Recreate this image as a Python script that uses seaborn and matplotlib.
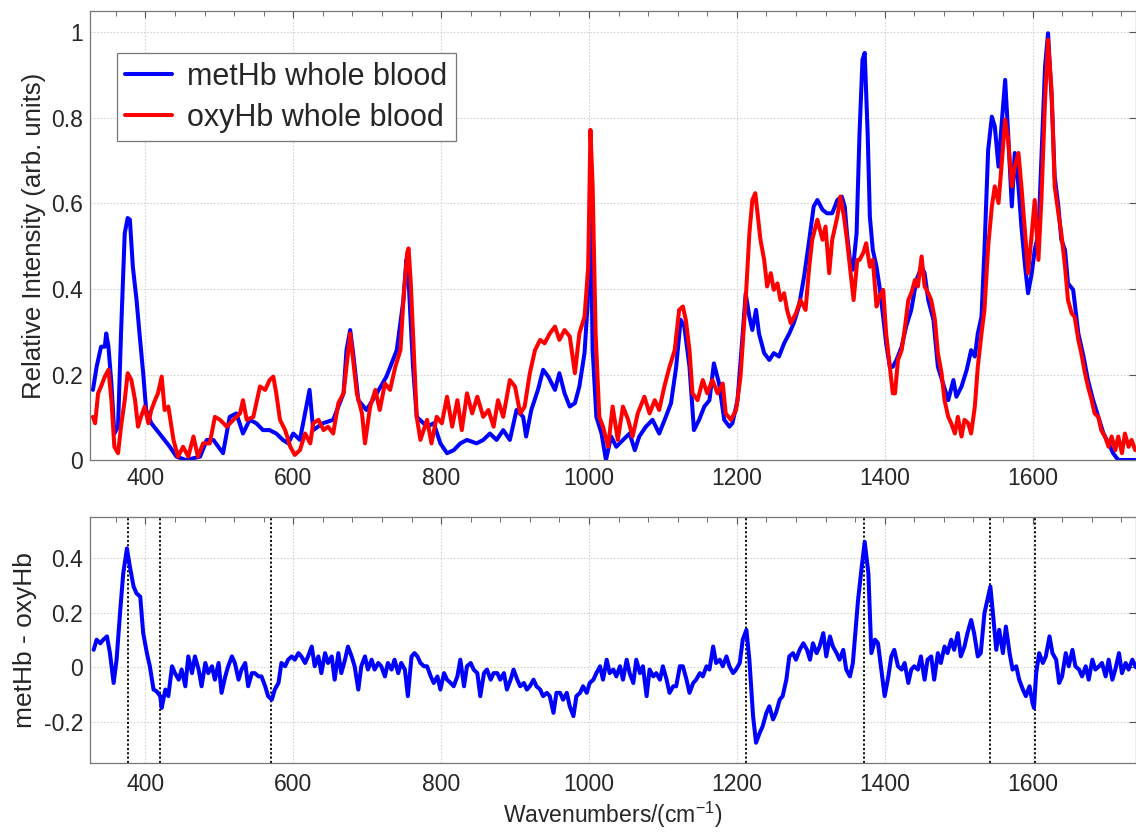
import matplotlib
matplotlib.use("Agg")
import matplotlib.pyplot as plt
import seaborn as sns
from matplotlib.ticker import MultipleLocator

# metHb whole blood spectrum
met_x = [329, 334, 340, 345, 347, 350, 354, 358, 363, 367, 372, 376, 379, 383, 388, 392, 397, 401, 408, 419,
         433, 442, 455, 474, 483, 492, 505, 514, 523, 532, 541, 550, 559, 568, 577, 586, 593, 600, 609, 622,
         627, 640, 654, 668, 672, 677, 681, 688, 699, 713, 726, 740, 749, 753, 756, 762, 767, 781, 790, 799,
         808, 817, 826, 835, 848, 857, 866, 875, 884, 893, 902, 911, 915, 922, 931, 938, 945, 954, 960, 967,
         974, 981, 987, 994, 998, 1002, 1005, 1010, 1017, 1023, 1030, 1037, 1046, 1055, 1062, 1068, 1077, 1086, 1095, 1104,
         1111, 1118, 1124, 1129, 1136, 1142, 1149, 1156, 1163, 1169, 1176, 1183, 1190, 1194, 1201, 1208, 1212, 1217, 1221, 1226,
         1230, 1237, 1244, 1250, 1257, 1264, 1271, 1277, 1284, 1291, 1298, 1304, 1309, 1316, 1322, 1329, 1336, 1342, 1346, 1349,
         1353, 1357, 1362, 1366, 1370, 1373, 1377, 1380, 1384, 1389, 1393, 1398, 1402, 1407, 1411, 1416, 1423, 1429, 1436, 1443,
         1450, 1454, 1459, 1466, 1472, 1479, 1486, 1493, 1497, 1504, 1511, 1517, 1522, 1526, 1531, 1535, 1540, 1545, 1549, 1554,
         1558, 1563, 1567, 1572, 1576, 1581, 1585, 1590, 1594, 1599, 1603, 1608, 1612, 1617, 1621, 1626, 1630, 1635, 1639, 1644,
         1648, 1655, 1662, 1669, 1675, 1682, 1689, 1696, 1703, 1709, 1716, 1723, 1732, 1740]
met_y = [0.164, 0.218, 0.265, 0.265, 0.296, 0.265, 0.179, 0.062, 0.078, 0.296, 0.530, 0.566, 0.562, 0.452, 0.374, 0.296, 0.203, 0.117, 0.086, 0.062,
         0.031, 0.008, 0.0, 0.008, 0.047, 0.047, 0.016, 0.101, 0.109, 0.062, 0.094, 0.086, 0.070, 0.070, 0.062, 0.047, 0.039, 0.062, 0.047, 0.164,
         0.070, 0.086, 0.094, 0.156, 0.257, 0.304, 0.250, 0.140, 0.117, 0.156, 0.195, 0.257, 0.374, 0.468, 0.420, 0.218, 0.101, 0.078, 0.086, 0.039,
         0.016, 0.023, 0.039, 0.047, 0.039, 0.047, 0.062, 0.047, 0.070, 0.047, 0.117, 0.101, 0.055, 0.117, 0.164, 0.211, 0.195, 0.164, 0.203, 0.156,
         0.125, 0.133, 0.172, 0.250, 0.359, 0.600, 0.257, 0.101, 0.062, 0.0, 0.055, 0.031, 0.047, 0.062, 0.023, 0.055, 0.078, 0.094, 0.062, 0.101,
         0.133, 0.218, 0.328, 0.312, 0.218, 0.070, 0.094, 0.125, 0.140, 0.226, 0.179, 0.094, 0.078, 0.086, 0.140, 0.296, 0.390, 0.335, 0.304, 0.351,
         0.296, 0.250, 0.234, 0.250, 0.242, 0.273, 0.296, 0.320, 0.359, 0.429, 0.515, 0.593, 0.608, 0.585, 0.577, 0.577, 0.608, 0.616, 0.593, 0.530,
         0.468, 0.445, 0.530, 0.764, 0.936, 0.952, 0.764, 0.569, 0.491, 0.452, 0.406, 0.335, 0.273, 0.218, 0.218, 0.234, 0.265, 0.312, 0.351, 0.421,
         0.452, 0.437, 0.374, 0.328, 0.218, 0.179, 0.140, 0.187, 0.148, 0.172, 0.211, 0.257, 0.242, 0.296, 0.335, 0.491, 0.725, 0.803, 0.780, 0.686,
         0.780, 0.889, 0.764, 0.593, 0.718, 0.640, 0.546, 0.452, 0.390, 0.437, 0.491, 0.530, 0.702, 0.920, 0.998, 0.842, 0.663, 0.593, 0.515, 0.491,
         0.413, 0.398, 0.296, 0.242, 0.187, 0.140, 0.101, 0.062, 0.039, 0.016, 0.0, 0.0, 0.0, 0.0]

# oxyHb whole blood spectrum
oxy_x = [329, 332, 336, 340, 345, 350, 354, 358, 363, 367, 372, 376, 381, 386, 390, 394, 399, 404, 408, 413,
         417, 422, 426, 431, 438, 444, 451, 458, 465, 471, 478, 487, 494, 501, 510, 519, 528, 532, 537, 546,
         555, 562, 568, 573, 577, 582, 589, 596, 602, 609, 616, 623, 627, 634, 641, 647, 654, 661, 668, 672,
         677, 681, 686, 693, 697, 704, 711, 717, 724, 731, 738, 745, 749, 754, 756, 759, 763, 767, 772, 781,
         787, 794, 801, 808, 815, 822, 828, 835, 842, 849, 857, 864, 871, 877, 884, 893, 900, 907, 913, 920,
         927, 934, 940, 947, 954, 960, 967, 974, 981, 987, 994, 999, 1002, 1005, 1009, 1014, 1019, 1026, 1032, 1039,
         1046, 1053, 1059, 1066, 1075, 1082, 1089, 1095, 1102, 1109, 1116, 1122, 1127, 1131, 1136, 1140, 1147, 1154, 1160, 1167,
         1174, 1181, 1185, 1192, 1199, 1205, 1212, 1217, 1221, 1225, 1228, 1232, 1237, 1241, 1246, 1250, 1255, 1259, 1264, 1268,
         1273, 1280, 1286, 1293, 1298, 1302, 1309, 1316, 1320, 1325, 1329, 1336, 1340, 1345, 1349, 1354, 1358, 1363, 1366, 1371,
         1375, 1380, 1384, 1389, 1393, 1398, 1402, 1407, 1411, 1414, 1418, 1423, 1427, 1432, 1436, 1441, 1445, 1450, 1454, 1459,
         1463, 1468, 1472, 1477, 1481, 1486, 1490, 1495, 1499, 1504, 1508, 1513, 1517, 1522, 1526, 1531, 1535, 1540, 1545, 1549,
         1554, 1558, 1563, 1567, 1572, 1576, 1581, 1585, 1590, 1594, 1599, 1603, 1608, 1612, 1617, 1621, 1626, 1630, 1635, 1639,
         1644, 1648, 1653, 1657, 1662, 1666, 1671, 1675, 1680, 1684, 1689, 1693, 1698, 1703, 1707, 1712, 1716, 1721, 1725, 1730,
         1734, 1739]
oxy_y = [0.101, 0.086, 0.156, 0.172, 0.195, 0.211, 0.140, 0.031, 0.016, 0.078, 0.140, 0.203, 0.187, 0.140, 0.078, 0.101, 0.125, 0.086, 0.117, 0.140,
         0.156, 0.195, 0.117, 0.125, 0.047, 0.008, 0.031, 0.008, 0.055, 0.008, 0.039, 0.039, 0.101, 0.094, 0.078, 0.094, 0.109, 0.140, 0.094, 0.101,
         0.172, 0.164, 0.187, 0.195, 0.156, 0.094, 0.070, 0.031, 0.012, 0.023, 0.062, 0.039, 0.086, 0.094, 0.070, 0.078, 0.062, 0.133, 0.156, 0.218,
         0.296, 0.234, 0.156, 0.109, 0.039, 0.125, 0.164, 0.117, 0.179, 0.164, 0.218, 0.257, 0.374, 0.484, 0.495, 0.413, 0.257, 0.101, 0.047, 0.094,
         0.039, 0.101, 0.086, 0.148, 0.078, 0.140, 0.070, 0.156, 0.109, 0.148, 0.101, 0.117, 0.078, 0.140, 0.101, 0.187, 0.172, 0.109, 0.125, 0.203,
         0.257, 0.281, 0.273, 0.296, 0.312, 0.281, 0.304, 0.289, 0.203, 0.296, 0.335, 0.452, 0.772, 0.640, 0.296, 0.101, 0.078, 0.031, 0.125, 0.047,
         0.125, 0.094, 0.055, 0.109, 0.148, 0.109, 0.140, 0.117, 0.172, 0.218, 0.257, 0.351, 0.359, 0.328, 0.257, 0.156, 0.140, 0.187, 0.156, 0.187,
         0.156, 0.179, 0.109, 0.094, 0.117, 0.195, 0.374, 0.530, 0.608, 0.624, 0.577, 0.515, 0.468, 0.406, 0.437, 0.398, 0.413, 0.374, 0.390, 0.351,
         0.320, 0.343, 0.374, 0.351, 0.452, 0.515, 0.562, 0.515, 0.546, 0.437, 0.515, 0.569, 0.616, 0.569, 0.515, 0.437, 0.374, 0.468, 0.468, 0.484,
         0.507, 0.452, 0.468, 0.359, 0.382, 0.398, 0.296, 0.218, 0.156, 0.156, 0.234, 0.257, 0.304, 0.374, 0.390, 0.421, 0.406, 0.476, 0.406, 0.390,
         0.374, 0.328, 0.250, 0.203, 0.140, 0.101, 0.086, 0.062, 0.101, 0.055, 0.094, 0.086, 0.062, 0.125, 0.218, 0.296, 0.351, 0.499, 0.593, 0.640,
         0.601, 0.686, 0.796, 0.749, 0.640, 0.686, 0.718, 0.640, 0.530, 0.437, 0.530, 0.608, 0.468, 0.608, 0.842, 0.983, 0.858, 0.640, 0.577, 0.530,
         0.452, 0.374, 0.343, 0.335, 0.281, 0.250, 0.203, 0.172, 0.140, 0.109, 0.101, 0.070, 0.055, 0.031, 0.055, 0.023, 0.055, 0.016, 0.062, 0.031,
         0.047, 0.023]

# difference spectrum metHb - oxyHb
diff_x = [330, 334, 339, 343, 348, 352, 357, 361, 366, 370, 375, 379, 384, 388, 393, 397, 402, 406, 411, 415,
          420, 422, 427, 431, 436, 440, 445, 449, 454, 458, 463, 467, 472, 476, 481, 485, 490, 494, 499, 503,
          508, 512, 517, 521, 526, 530, 535, 539, 544, 548, 553, 557, 562, 566, 571, 575, 580, 584, 589, 593,
          598, 602, 607, 611, 616, 620, 625, 629, 634, 638, 643, 647, 652, 656, 661, 665, 670, 674, 679, 683,
          688, 692, 697, 701, 706, 710, 715, 719, 724, 728, 733, 737, 742, 746, 751, 755, 760, 764, 768, 772,
          777, 781, 786, 790, 795, 799, 804, 808, 813, 817, 822, 826, 831, 835, 840, 844, 849, 853, 858, 862,
          867, 871, 876, 880, 885, 889, 894, 898, 903, 907, 912, 916, 920, 925, 929, 934, 938, 943, 947, 952,
          956, 961, 965, 970, 974, 979, 983, 988, 992, 997, 1001, 1006, 1010, 1015, 1019, 1024, 1028, 1033, 1037, 1042,
          1046, 1051, 1055, 1060, 1064, 1069, 1073, 1078, 1082, 1087, 1091, 1096, 1100, 1105, 1109, 1114, 1118, 1123, 1127, 1132,
          1136, 1141, 1145, 1150, 1154, 1159, 1163, 1168, 1172, 1177, 1181, 1186, 1190, 1195, 1199, 1204, 1208, 1213, 1217, 1222,
          1226, 1231, 1235, 1240, 1244, 1249, 1253, 1258, 1262, 1267, 1271, 1276, 1280, 1285, 1290, 1295, 1299, 1303, 1308, 1312,
          1317, 1321, 1326, 1330, 1335, 1339, 1344, 1348, 1353, 1357, 1360, 1364, 1369, 1373, 1378, 1382, 1387, 1391, 1396, 1400,
          1405, 1409, 1413, 1418, 1423, 1427, 1432, 1436, 1440, 1445, 1449, 1454, 1458, 1463, 1467, 1472, 1476, 1481, 1485, 1490,
          1494, 1499, 1503, 1508, 1512, 1517, 1521, 1526, 1530, 1535, 1539, 1543, 1546, 1551, 1555, 1560, 1564, 1569, 1573, 1578,
          1582, 1587, 1591, 1596, 1600, 1602, 1605, 1609, 1614, 1618, 1623, 1627, 1632, 1636, 1640, 1645, 1649, 1654, 1658, 1663,
          1667, 1672, 1676, 1681, 1685, 1690, 1694, 1699, 1703, 1708, 1712, 1717, 1721, 1726, 1730, 1735, 1740]
diff_y = [0.064, 0.101, 0.088, 0.101, 0.113, 0.052, -0.057, 0.028, 0.210, 0.343, 0.434, 0.367, 0.295, 0.270, 0.258, 0.125, 0.052, 0.004, -0.081, -0.087,
          -0.105, -0.148, -0.081, -0.105, 0.004, -0.021, -0.045, -0.008, -0.069, 0.040, -0.021, 0.040, -0.008, -0.069, 0.016, -0.021, 0.004, -0.045, 0.016, -0.093,
          -0.033, 0.004, 0.040, 0.016, -0.045, -0.008, 0.016, -0.069, -0.021, -0.021, -0.033, -0.033, -0.069, -0.105, -0.118, -0.081, -0.057, 0.016, 0.004, 0.028,
          0.040, 0.028, 0.052, 0.040, 0.016, 0.040, 0.076, 0.004, 0.040, -0.021, 0.052, 0.016, 0.040, -0.045, 0.052, -0.021, 0.028, 0.076, 0.040, 0.004,
          -0.081, 0.004, 0.040, -0.008, 0.028, -0.008, 0.016, 0.004, -0.033, 0.016, -0.008, 0.028, -0.021, 0.016, -0.008, -0.105, 0.040, 0.052, 0.040, 0.016,
          0.004, 0.004, -0.033, -0.057, -0.033, -0.081, -0.021, -0.045, -0.057, -0.069, -0.033, 0.028, -0.069, 0.004, 0.016, -0.008, -0.021, -0.105, -0.021, -0.008,
          -0.045, -0.021, -0.021, -0.045, -0.021, -0.081, -0.045, -0.008, -0.045, -0.069, -0.057, -0.081, -0.069, -0.045, -0.069, -0.081, -0.105, -0.093, -0.105, -0.166,
          -0.093, -0.093, -0.118, -0.093, -0.142, -0.178, -0.105, -0.093, -0.069, -0.093, -0.057, -0.045, -0.021, 0.004, -0.045, 0.028, -0.021, -0.008, -0.033, 0.004,
          -0.045, 0.028, -0.021, -0.057, 0.028, -0.021, 0.004, -0.105, -0.008, -0.033, -0.021, -0.045, 0.004, -0.045, -0.093, -0.069, -0.069, 0.004, 0.004, -0.045,
          -0.093, -0.057, -0.045, -0.021, -0.033, 0.004, -0.008, 0.076, 0.016, 0.028, 0.004, 0.040, 0.004, -0.021, -0.008, 0.016, 0.101, 0.137, 0.028, -0.178,
          -0.275, -0.239, -0.215, -0.166, -0.142, -0.190, -0.166, -0.118, -0.105, -0.045, 0.040, 0.052, 0.028, 0.064, 0.088, 0.064, 0.028, 0.088, 0.052, 0.076,
          0.125, 0.040, 0.113, 0.076, 0.052, 0.028, 0.064, -0.008, -0.033, 0.016, 0.113, 0.246, 0.367, 0.458, 0.343, 0.052, 0.101, 0.088, -0.021, -0.105,
          -0.033, 0.040, 0.064, 0.004, -0.008, 0.016, -0.057, -0.008, 0.004, -0.008, 0.040, -0.045, 0.028, 0.040, -0.045, 0.052, 0.016, 0.076, 0.052, 0.101,
          0.064, 0.125, 0.040, 0.076, 0.125, 0.173, 0.125, 0.040, 0.052, 0.198, 0.246, 0.295, 0.210, 0.064, 0.137, 0.052, 0.149, 0.052, -0.008, 0.004,
          -0.045, -0.081, -0.105, -0.069, -0.130, -0.148, -0.021, 0.052, 0.016, 0.040, 0.113, 0.052, 0.028, -0.057, -0.033, 0.052, 0.004, 0.064, 0.004, -0.008,
          -0.033, 0.004, -0.045, 0.028, -0.008, 0.004, 0.016, -0.033, 0.028, -0.045, -0.008, 0.052, -0.021, 0.016, -0.008, 0.028, 0.0]

# marked band positions
marker_x = [377, 420, 570, 1213, 1372, 1542, 1603]

x_ticks = [400, 600, 800, 1000, 1200, 1400, 1600]
top_yticks = [0, 0.2, 0.4, 0.6, 0.8, 1]
top_ylabels = ["0", "0.2", "0.4", "0.6", "0.8", "1"]
bot_yticks = [-0.2, 0, 0.2, 0.4]
bot_ylabels = ["-0.2", "0", "0.2", "0.4"]

sns.set_style("white")
plt.rcParams["font.family"] = ["Liberation Sans", "DejaVu Sans"]
plt.rcParams["mathtext.fontset"] = "custom"
plt.rcParams["mathtext.rm"] = "Liberation Sans"

fig = plt.figure(figsize=(11.36, 8.34), dpi=100)
ax1 = fig.add_axes([0.0792, 0.4484, 0.9208, 0.5384])
ax2 = fig.add_axes([0.0792, 0.0848, 0.9208, 0.2957])

sns.lineplot(x=met_x, y=met_y, color="#0000ff", lw=2.9, label="metHb whole blood",
             estimator=None, ax=ax1)
sns.lineplot(x=oxy_x, y=oxy_y, color="#ff0000", lw=2.9, label="oxyHb whole blood",
             estimator=None, ax=ax1)

for xv in marker_x:
    ax2.axvline(xv, color="black", ls=(0, (1.2, 1.2)), lw=1.3, zorder=1)
sns.lineplot(x=diff_x, y=diff_y, color="#0000ff", lw=2.9, estimator=None, ax=ax2, zorder=3)

for ax in (ax1, ax2):
    ax.set_xlim(325, 1740)
    ax.set_xticks(x_ticks)
    ax.set_xticklabels([str(t) for t in x_ticks])
    ax.xaxis.set_minor_locator(MultipleLocator(40))
    ax.grid(True, which="major", color="#d4d4d4", ls=(0, (1.5, 1.5)), lw=0.8)
    ax.set_axisbelow(True)
    ax.tick_params(which="both", direction="in", top=True, right=True,
                   color="#555555", labelsize=16.5, pad=5)
    ax.tick_params(which="major", length=5)
    ax.tick_params(which="minor", length=3.5)
    for sp in ax.spines.values():
        sp.set_color("#777777")
        sp.set_linewidth(0.9)

ax2.tick_params(axis="x", which="both", pad=7)

ax1.set_ylim(0, 1.05)
ax1.set_yticks(top_yticks)
ax1.set_yticklabels(top_ylabels)
ax1.set_ylabel("Relative Intensity (arb. units)", fontsize=18.5, labelpad=4)

ax2.set_ylim(-0.35, 0.55)
ax2.set_yticks(bot_yticks)
ax2.set_yticklabels(bot_ylabels)
ax2.set_ylabel("metHb - oxyHb", fontsize=19, labelpad=5)
ax2.set_xlabel("Wavenumbers/(cm$^{\\mathrm{-1}}$)", fontsize=16.5, labelpad=3)

leg = ax1.legend(loc="upper left", bbox_to_anchor=(0.0255, 0.906), borderaxespad=0,
                 fontsize=22, frameon=True, fancybox=False, framealpha=1,
                 edgecolor="#777777", handlelength=1.54, handletextpad=0.48,
                 borderpad=0.285, labelspacing=0.35)
leg.get_frame().set_linewidth(0.9)

fig.savefig("out.png", dpi=100)
